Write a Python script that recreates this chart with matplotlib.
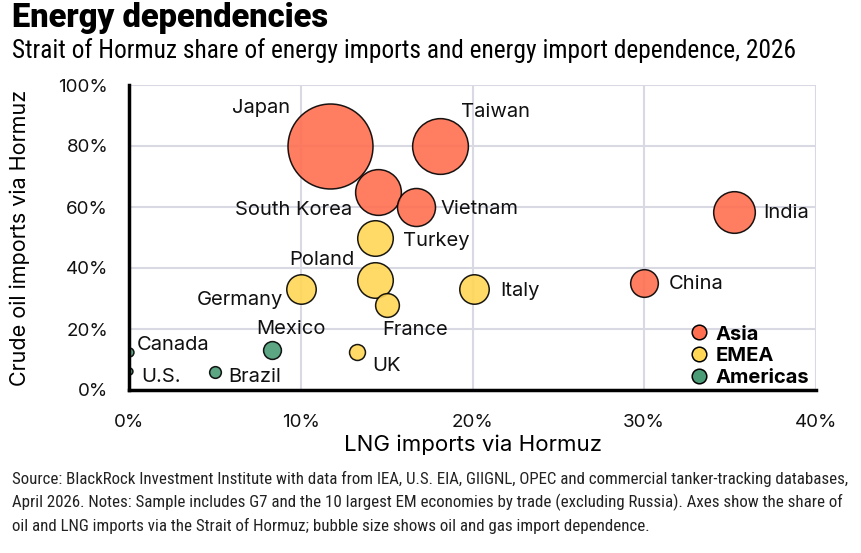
"""Strait of Hormuz bubble chart: LNG vs crude oil import share, 2026."""
import matplotlib

matplotlib.use("Agg")
import matplotlib.pyplot as plt
from matplotlib import font_manager
from matplotlib.lines import Line2D
from matplotlib.ticker import PercentFormatter

countries = ["Japan", "Taiwan", "South Korea", "Vietnam", "India", "Turkey",
             "Poland", "France", "Germany", "Italy", "China", "Mexico", "UK",
             "Brazil", "Canada", "U.S."]
region = ["Asia", "Asia", "Asia", "Asia", "Asia", "EMEA", "EMEA", "EMEA",
          "EMEA", "EMEA", "Asia", "Americas", "EMEA", "Americas", "Americas",
          "Americas"]
lng_share = [11.7, 18.1, 14.5, 16.7, 35.2, 14.3, 14.3, 15.0, 10.0, 20.1,
             30.0, 8.3, 13.3, 5.0, 0.0, 0.0]
oil_share = [80.0, 80.0, 65.0, 60.0, 58.5, 50.0, 36.0, 28.0, 33.0, 33.0,
             35.0, 13.0, 12.3, 5.8, 12.5, 6.3]
dependence = [100, 43, 29, 20, 24, 17.5, 17.5, 7.8, 12, 12, 10.6, 4.4, 3.5,
              1.9, 1.1, 0.66]
regions = ["Asia", "EMEA", "Americas"]

COLORS = {"Asia": "#FF6F50", "EMEA": "#FFD655", "Americas": "#4A9C76"}
GRID = "#d9d9e4"

# label offsets in pixels from bubble centre (x right, y up) + alignment
LABELS = {
    "Japan": (-69, 38, "center"), "Taiwan": (21, 34, "left"),
    "South Korea": (-26, -18, "right"), "Vietnam": (25, -2, "left"),
    "India": (30, -1, "left"), "Turkey": (28, -3, "left"),
    "Poland": (-53, 20, "center"), "France": (-4, -25, "left"),
    "Germany": (-18, -11, "right"), "Italy": (26, -2, "left"),
    "China": (24, -1, "left"), "Mexico": (19, 21, "center"),
    "UK": (15, -14, "left"), "Brazil": (13, -5, "left"),
    "Canada": (8, 7, "left"), "U.S.": (12, -6, "left"),
}


def pick_font(candidates: list[str], fallback: str) -> str:
    """Return the first installed family out of `candidates`."""
    names = {f.name for f in font_manager.fontManager.ttflist}
    for name in candidates:
        if name in names:
            return name
    return fallback


BODY = pick_font(["Inter", "Roboto", "Open Sans"], "DejaVu Sans")
NARROW = pick_font(["Roboto Condensed", "Liberation Sans Narrow",
                    "Open Sans Condensed"], "Liberation Sans")
HEAVY = pick_font(["Roboto", "Inter", "Lato"], "DejaVu Sans")

plt.rcParams["font.family"] = [BODY, "DejaVu Sans"]

fig = plt.figure(figsize=(8.61, 5.53), dpi=100)
ax = fig.add_axes([129 / 861, 1 - 390 / 553, 687 / 861, 305 / 553])

size_scale = (2 * 42.5 * 0.72) ** 2 / 100
for name, reg, x, y, d in zip(countries, region, lng_share, oil_share,
                              dependence):
    ax.scatter(x, y, s=d * size_scale, color=COLORS[reg], alpha=0.9,
               edgecolor="black", linewidth=1.1, zorder=3)
    dx, dy, ha = LABELS[name]
    ax.annotate(name, (x, y), xytext=(dx, dy), textcoords="offset pixels",
                ha=ha, va="center", fontsize=14.5, color="#111111", zorder=4)

ax.set_xlim(0, 40)
ax.set_ylim(0, 100)
ax.set_xticks([0, 10, 20, 30, 40])
ax.set_yticks([0, 20, 40, 60, 80, 100])
ax.xaxis.set_major_formatter(PercentFormatter(decimals=0))
ax.yaxis.set_major_formatter(PercentFormatter(decimals=0))
ax.tick_params(length=0, labelsize=13.5, colors="#111111")
ax.tick_params(axis="y", pad=15)
ax.tick_params(axis="x", pad=17)
ax.grid(True, color=GRID, linewidth=1.5, zorder=0)
ax.set_axisbelow(True)
for side in ("top", "right"):
    ax.spines[side].set_visible(False)
for side in ("left", "bottom"):
    ax.spines[side].set_linewidth(2.5)
    ax.spines[side].set_zorder(5)

ax.set_xlabel("LNG imports via Hormuz", fontsize=16)
ax.set_ylabel("Crude oil imports via Hormuz", fontsize=15.5)
ax.xaxis.set_label_coords(0.5, -0.145)
ax.yaxis.set_label_coords(-0.144, 0.5)

handles = [Line2D([], [], marker="o", linestyle="", markersize=10.5,
                  markerfacecolor=COLORS[r], markeredgecolor="black",
                  markeredgewidth=1.1) for r in regions]
leg = ax.legend(handles, regions, loc="lower right",
                bbox_to_anchor=(0.99, 0.01), frameon=False, borderpad=0,
                borderaxespad=0, handletextpad=0.3, handlelength=1.0,
                labelspacing=0.18, prop={"size": 14.5, "weight": "bold"})
leg.set_zorder(6)

fig.text(12 / 861, 1 - 18 / 553, "Energy dependencies", fontsize=23.5,
         fontweight="black", family=HEAVY, va="center", ha="left")
fig.text(12 / 861, 1 - 51 / 553,
         "Strait of Hormuz share of energy imports and energy import "
         "dependence, 2026", fontsize=18.3, family=NARROW, va="center",
         ha="left")
footer = ("Source: BlackRock Investment Institute with data from IEA, U.S. "
          "EIA, GIIGNL, OPEC and commercial tanker-tracking databases,\n"
          "April 2026. Notes: Sample includes G7 and the 10 largest EM "
          "economies by trade (excluding Russia). Axes show the share of\n"
          "oil and LNG imports via the Strait of Hormuz; bubble size shows "
          "oil and gas import dependence.")
fig.text(12 / 861, 1 - 471 / 553, footer, fontsize=12.2, family=NARROW,
         va="top", ha="left", linespacing=1.52, color="#222222")

fig.savefig("out.png", dpi=100)
